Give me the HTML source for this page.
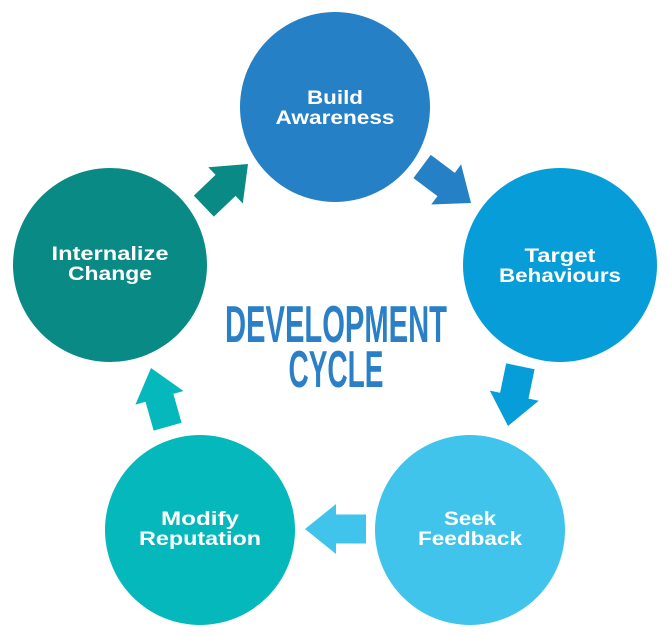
<!DOCTYPE html>
<html><head><meta charset="utf-8"><style>
html,body{margin:0;padding:0;background:#fff;}
svg{display:block;}
.t{font-family:"Liberation Sans",sans-serif;font-weight:bold;font-size:19px;fill:#fff;text-anchor:middle;}
.c{font-family:"Liberation Sans Narrow","Liberation Sans",sans-serif;font-weight:bold;font-size:52px;fill:#2a7fc6;text-anchor:middle;}
</style></head><body>
<svg width="670" height="637" viewBox="0 0 670 637">
<defs>
<polygon id="ar" points="0,0 -31,-25 -31,-14.5 -61,-14.5 -61,14.5 -31,14.5 -31,25"/>
</defs>
<circle cx="335" cy="107" r="95" fill="#2580c6"/>
<circle cx="560" cy="265" r="97" fill="#069dd9"/>
<circle cx="470" cy="530" r="95" fill="#40c4ec"/>
<circle cx="200" cy="530" r="95" fill="#05b8bb"/>
<circle cx="110" cy="265" r="97" fill="#0a8a84"/>
<use href="#ar" fill="#2580c6" transform="translate(471,203) rotate(36.7)"/>
<use href="#ar" fill="#069dd9" transform="translate(508,426) rotate(101.7)"/>
<use href="#ar" fill="#40c4ec" transform="translate(305,529) rotate(180)"/>
<use href="#ar" fill="#05b8bb" transform="translate(151,368) rotate(-105.8)"/>
<use href="#ar" fill="#0a8a84" transform="translate(248,164) rotate(-43.6)"/>
<text class="t" x="335" y="104" textLength="56" lengthAdjust="spacingAndGlyphs">Build</text>
<text class="t" x="335" y="124" textLength="119" lengthAdjust="spacingAndGlyphs">Awareness</text>
<text class="t" x="560" y="262" textLength="71" lengthAdjust="spacingAndGlyphs">Target</text>
<text class="t" x="560" y="282" textLength="122" lengthAdjust="spacingAndGlyphs">Behaviours</text>
<text class="t" x="470" y="525" textLength="52" lengthAdjust="spacingAndGlyphs">Seek</text>
<text class="t" x="470" y="545" textLength="104" lengthAdjust="spacingAndGlyphs">Feedback</text>
<text class="t" x="200" y="525" textLength="78" lengthAdjust="spacingAndGlyphs">Modify</text>
<text class="t" x="200" y="545" textLength="122" lengthAdjust="spacingAndGlyphs">Reputation</text>
<text class="t" x="110" y="260" textLength="117" lengthAdjust="spacingAndGlyphs">Internalize</text>
<text class="t" x="110" y="280" textLength="84" lengthAdjust="spacingAndGlyphs">Change</text>
<text class="c" x="336" y="342" textLength="222" lengthAdjust="spacingAndGlyphs">DEVELOPMENT</text>
<text class="c" x="336" y="387" textLength="95" lengthAdjust="spacingAndGlyphs">CYCLE</text>
</svg>
</body></html>
